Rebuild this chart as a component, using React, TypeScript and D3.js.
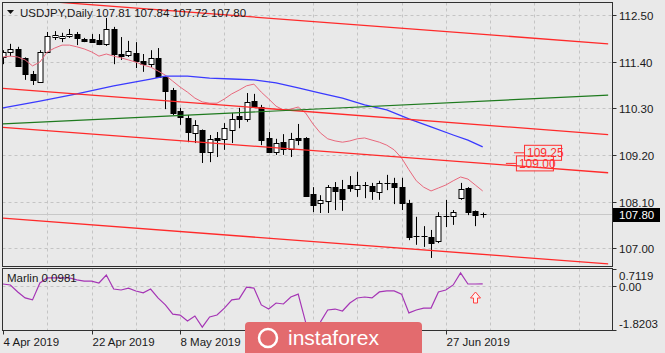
import * as d3 from 'd3';

// USDJPY daily, 4 Apr 2019 .. 4 Jul 2019 (one entry per bar)
const opens = [111.51, 111.63, 111.70, 111.49, 111.11, 110.92, 111.63, 111.98, 111.96, 112.00, 112.05, 111.93, 111.93, 111.91, 111.82, 112.17, 111.58, 111.56, 111.60, 111.42, 111.34, 111.49, 111.04, 110.73, 110.24, 110.07, 109.72, 109.79, 109.27, 109.60, 109.58, 109.79, 110.12, 110.05, 110.47, 110.33, 109.60, 109.27, 109.50, 109.34, 109.60, 109.60, 108.28, 108.07, 108.11, 108.44, 108.40, 108.49, 108.40, 108.49, 108.47, 108.33, 108.54, 108.54, 108.44, 108.07, 107.29, 107.29, 107.26, 107.17, 107.76, 107.76, 108.18, 108.42, 107.88, 107.81];
const highs = [111.67, 111.82, 111.75, 111.50, 111.18, 111.67, 112.10, 112.12, 112.08, 112.17, 112.10, 111.96, 112.05, 112.05, 112.43, 112.22, 111.98, 111.89, 111.86, 111.58, 111.67, 111.72, 111.05, 110.78, 110.31, 110.14, 110.02, 109.80, 109.67, 109.74, 109.95, 110.19, 110.31, 110.66, 110.64, 110.38, 109.74, 109.58, 109.69, 109.72, 109.93, 109.62, 108.44, 108.25, 108.49, 108.56, 108.61, 108.70, 108.80, 108.56, 108.54, 108.59, 108.73, 108.66, 108.66, 108.14, 107.74, 107.52, 107.43, 107.85, 108.14, 107.90, 108.54, 108.44, 107.89, 107.84];
const lows = [111.34, 111.53, 111.28, 110.97, 110.85, 110.90, 111.60, 111.91, 111.86, 111.96, 111.79, 111.86, 111.84, 111.79, 111.77, 111.34, 111.44, 111.51, 111.25, 111.16, 111.27, 111.02, 110.28, 110.14, 109.91, 109.50, 109.48, 109.01, 109.03, 109.15, 109.32, 109.48, 109.83, 109.98, 110.31, 109.43, 109.25, 109.20, 109.20, 109.15, 109.43, 108.21, 107.85, 107.83, 107.83, 107.90, 107.88, 108.33, 108.21, 108.18, 108.14, 108.14, 108.37, 108.04, 107.90, 107.19, 107.08, 107.03, 106.77, 107.12, 107.50, 107.55, 108.14, 107.78, 107.52, 107.72];
const closes = [111.63, 111.70, 111.30, 111.11, 110.97, 111.63, 112.00, 112.03, 112.00, 112.05, 111.96, 111.89, 111.86, 111.82, 112.17, 111.58, 111.53, 111.65, 111.42, 111.34, 111.49, 111.04, 110.71, 110.19, 110.09, 109.74, 109.91, 109.27, 109.58, 109.55, 109.83, 110.05, 110.05, 110.45, 110.33, 109.55, 109.27, 109.48, 109.34, 109.58, 109.55, 108.23, 108.02, 108.14, 108.44, 108.35, 108.16, 108.42, 108.49, 108.47, 108.35, 108.54, 108.51, 108.44, 108.07, 107.26, 107.28, 107.26, 107.12, 107.76, 107.74, 107.85, 108.40, 107.85, 107.78, 107.80];

// fast MA (pink) per bar
const maFast = [111.51, 111.53, 111.51, 111.44, 111.30, 111.39, 111.63, 111.72, 111.79, 111.79, 111.75, 111.70, 111.63, 111.53, 111.58, 111.53, 111.49, 111.44, 111.39, 111.32, 111.27, 111.18, 111.08, 110.94, 110.80, 110.68, 110.54, 110.45, 110.42, 110.42, 110.52, 110.64, 110.73, 110.83, 110.87, 110.68, 110.52, 110.35, 110.26, 110.28, 110.33, 110.19, 109.93, 109.72, 109.58, 109.53, 109.50, 109.53, 109.58, 109.60, 109.55, 109.50, 109.43, 109.32, 109.13, 108.85, 108.59, 108.44, 108.35, 108.42, 108.49, 108.59, 108.68, 108.63, 108.49, 108.35];
// slow MA (blue), sampled bars
const maSlowIdx = [0, 5, 10, 15, 20, 22, 25, 28, 31, 34, 37, 40, 43, 46, 49, 52, 55, 58, 61, 63, 65];
const maSlow = [110.31, 110.47, 110.64, 110.83, 110.99, 111.06, 111.06, 111.01, 110.99, 110.97, 110.90, 110.78, 110.66, 110.54, 110.38, 110.26, 110.05, 109.86, 109.67, 109.55, 109.39];

// Marlin oscillator
const marlin = [0.09, 0.05, -0.24, -0.49, -0.57, 0.13, 0.34, 0.34, 0.34, 0.34, 0.26, 0.21, 0.21, 0.13, 0.46, -0.12, -0.16, -0.08, -0.20, -0.28, -0.12, -0.49, -0.78, -1.16, -1.20, -1.45, -1.24, -1.70, -1.28, -1.20, -0.91, -0.57, -0.53, -0.04, -0.08, -0.78, -0.95, -0.70, -0.74, -0.45, -0.33, -1.49, -1.82, -1.49, -0.99, -0.95, -1.03, -0.70, -0.49, -0.45, -0.49, -0.24, -0.20, -0.20, -0.33, -1.11, -0.99, -0.91, -0.91, -0.24, -0.16, 0.05, 0.55, 0.09, 0.09, 0.0981];

// trend lines: value at bar 0 and bar 82
const redLines = [[112.90, 111.82], [110.77, 109.68], [109.85, 108.78], [107.71, 106.63]];
const greenLine = [109.93, 110.61];

const priceTicks = [112.5, 111.4, 110.3, 109.2, 108.1, 107.0];
const marlinTicks = [0.7119, 0.0, -1.8203];
// labels at bars 36 and 48 sit under the watermark, only their ticks are drawn
const dateLabels = ['4 Apr 2019', '22 Apr 2019', '8 May 2019', '', '', '27 Jun 2019'];
const dateIdx = [0, 12, 24, 36, 48, 60];
const levelLabels = [109.25, 109.0];

const FONT = '"Liberation Sans", Arial, sans-serif';

export default function App() {
  const W = 665, H = 353;
  const L = 2.5, R = 612.5, mT = 2.5, mB = 266.5, iT = 268.5, iB = 330.5;

  const x = d3.scaleLinear().domain([0, 82.52]).range([3, 612]);
  const y = d3.scaleLinear().domain([107.0, 112.5]).range([248.2, 15]);
  const my = d3.scaleLinear().domain([-1.8203, 0.7119]).range([330, 269]);

  const px = (i: number) => Math.round(x(i)) + 0.5;

  const fastPath = d3.line<number>().x((d, i) => x(i)).y((d) => y(d))(maFast) || '';
  const slowPath = d3.line<number>().x((d, i) => x(maSlowIdx[i])).y((d) => y(d))(maSlow) || '';
  const marlinPath = d3.line<number>().x((d, i) => x(i)).y((d) => my(d))(marlin) || '';

  const gridX = d3.range(6, 83, 6);
  const last = closes[closes.length - 1];

  const ax = Math.round(x(64)) + 0.5;
  const at = Math.round(my(-0.24));

  return (
    <div style={{ position: 'fixed', left: 0, top: 0, width: W, height: H }}>
      <svg width={W} height={H} style={{ display: 'block', fontFamily: FONT }}>
        <defs>
          <clipPath id="mainClip"><rect x={L} y={mT} width={R - L} height={mB - mT} /></clipPath>
          <clipPath id="indClip"><rect x={L} y={iT} width={R - L} height={iB - iT} /></clipPath>
        </defs>
        <rect width={W} height={H} fill="#e9e9e9" />

        {/* grid */}
        <g stroke="#c4c4c4" strokeDasharray="3,3" strokeWidth={1}>
          {gridX.map((g) => (
            <g key={g}>
              <line x1={px(g)} x2={px(g)} y1={mT} y2={mB} />
              <line x1={px(g)} x2={px(g)} y1={iT} y2={iB} />
            </g>
          ))}
          {priceTicks.map((p) => (
            <line key={p} x1={L} x2={R} y1={Math.round(y(p)) + 0.5} y2={Math.round(y(p)) + 0.5} />
          ))}
          <line x1={L} x2={R} y1={Math.round(my(0)) + 0.5} y2={Math.round(my(0)) + 0.5} />
        </g>

        {/* bid line */}
        <line x1={L} x2={R} y1={Math.round(y(last)) + 0.5} y2={Math.round(y(last)) + 0.5} stroke="#c8c8c8" />

        <g clipPath="url(#mainClip)">
          {/* candles */}
          {closes.map((c, i) => {
            const o = opens[i];
            const cx = px(i);
            const top = Math.round(y(Math.max(o, c)));
            const bot = Math.round(y(Math.min(o, c)));
            const up = c > o;
            return (
              <g key={i}>
                <line x1={cx} x2={cx} y1={y(highs[i])} y2={y(lows[i])} stroke="#000" />
                {bot - top <= 1 ? (
                  <line x1={cx - 3} x2={cx + 3} y1={top + 0.5} y2={top + 0.5} stroke="#000" />
                ) : (
                  <rect x={cx - 2.5} y={top + 0.5} width={5} height={bot - top} fill={up ? '#fff' : '#000'} stroke="#000" />
                )}
              </g>
            );
          })}

          <path d={fastPath} fill="none" stroke="#e8687c" strokeWidth={1} />
          <path d={slowPath} fill="none" stroke="#3a3aff" strokeWidth={1.3} />

          {redLines.map((r, k) => (
            <line key={k} x1={x(0)} x2={x(82)} y1={y(r[0])} y2={y(r[1])} stroke="#ff2a2a" strokeWidth={1.3} />
          ))}
          <line x1={x(0)} x2={x(82)} y1={y(greenLine[0])} y2={y(greenLine[1])} stroke="#1e7a1e" strokeWidth={1.2} />

          {/* level labels */}
          {levelLabels.map((v, k) => {
            const bx = x(k === 0 ? 70.6 : 69.5);
            const cy = y(v);
            return (
              <g key={v}>
                <line x1={bx - 10} x2={bx} y1={cy} y2={cy} stroke="#ff3030" />
                <rect x={bx + 0.5} y={cy - 7.5} width={37} height={15} fill="none" stroke="#ff3030" />
                <text x={bx + 3} y={cy + 4.5} fontSize={12} fill="#ff3030">{v.toFixed(2)}</text>
              </g>
            );
          })}
        </g>

        {/* marlin */}
        <g clipPath="url(#indClip)">
          <path d={marlinPath} fill="none" stroke="#a535b5" strokeWidth={1.2} />
          <polygon
            points={`${ax},${at} ${ax + 5},${at + 6} ${ax + 2},${at + 6} ${ax + 2},${at + 11} ${ax - 2},${at + 11} ${ax - 2},${at + 6} ${ax - 5},${at + 6}`}
            fill="#fff0f0" stroke="#ff4040" strokeWidth={1}
          />
        </g>

        {/* frames */}
        <rect x={L} y={mT} width={R - L} height={mB - mT} fill="none" stroke="#303030" />
        <rect x={L} y={iT} width={R - L} height={iB - iT} fill="none" stroke="#303030" />

        {/* title */}
        <path d="M7,10 L14,10 L10.5,14 Z" fill="#111" />
        <text x={20} y={17} fontSize={11.5} fill="#1a1a1a">
          {`USDJPY,Daily  ${opens[65].toFixed(2)} ${highs[65].toFixed(2)} ${lows[65].toFixed(2)} ${closes[65].toFixed(2)}`}
        </text>
        <text x={7} y={282} fontSize={11.5} fill="#1a1a1a">{`Marlin ${marlin[marlin.length - 1].toFixed(4)}`}</text>

        {/* price axis */}
        {priceTicks.map((p) => {
          const yy = Math.round(y(p)) + 0.5;
          return (
            <g key={p}>
              <line x1={R} x2={R + 4} y1={yy} y2={yy} stroke="#303030" />
              <text x={619} y={yy + 4} fontSize={11.5} fill="#1a1a1a">{p.toFixed(2)}</text>
            </g>
          );
        })}
        <rect x={613} y={Math.round(y(last)) - 6} width={47} height={14} fill="#000" />
        <text x={619} y={Math.round(y(last)) + 5} fontSize={11.5} fill="#fff">{last.toFixed(2)}</text>

        {/* marlin axis */}
        {marlinTicks.map((v, k) => {
          const yy = Math.round(my(v)) + 0.5;
          const ty = k === 0 ? yy + 10 : k === 2 ? yy - 3 : yy + 4;
          return (
            <g key={v}>
              <line x1={R} x2={R + 4} y1={yy} y2={yy} stroke="#303030" />
              <text x={619} y={ty} fontSize={11.5} fill="#1a1a1a">{v === 0 ? '0.00' : v.toFixed(4)}</text>
            </g>
          );
        })}

        {/* date axis */}
        {dateIdx.map((di, k) => {
          const xx = px(di);
          return (
            <g key={di}>
              <line x1={xx} x2={xx} y1={iB} y2={iB + 4} stroke="#303030" />
              {dateLabels[k] && <text x={xx} y={346} fontSize={11.5} fill="#1a1a1a">{dateLabels[k]}</text>}
            </g>
          );
        })}

        {/* watermark */}
        <g>
          <rect x={245} y={322} width={177} height={40} rx={4} fill="#e36b6e" />
          <circle cx={268} cy={338} r={9} fill="none" stroke="#fff" strokeWidth={2.5} />
          <text x={288} y={345} fontSize={21} fill="#fff">instaforex</text>
        </g>
      </svg>
    </div>
  );
}
